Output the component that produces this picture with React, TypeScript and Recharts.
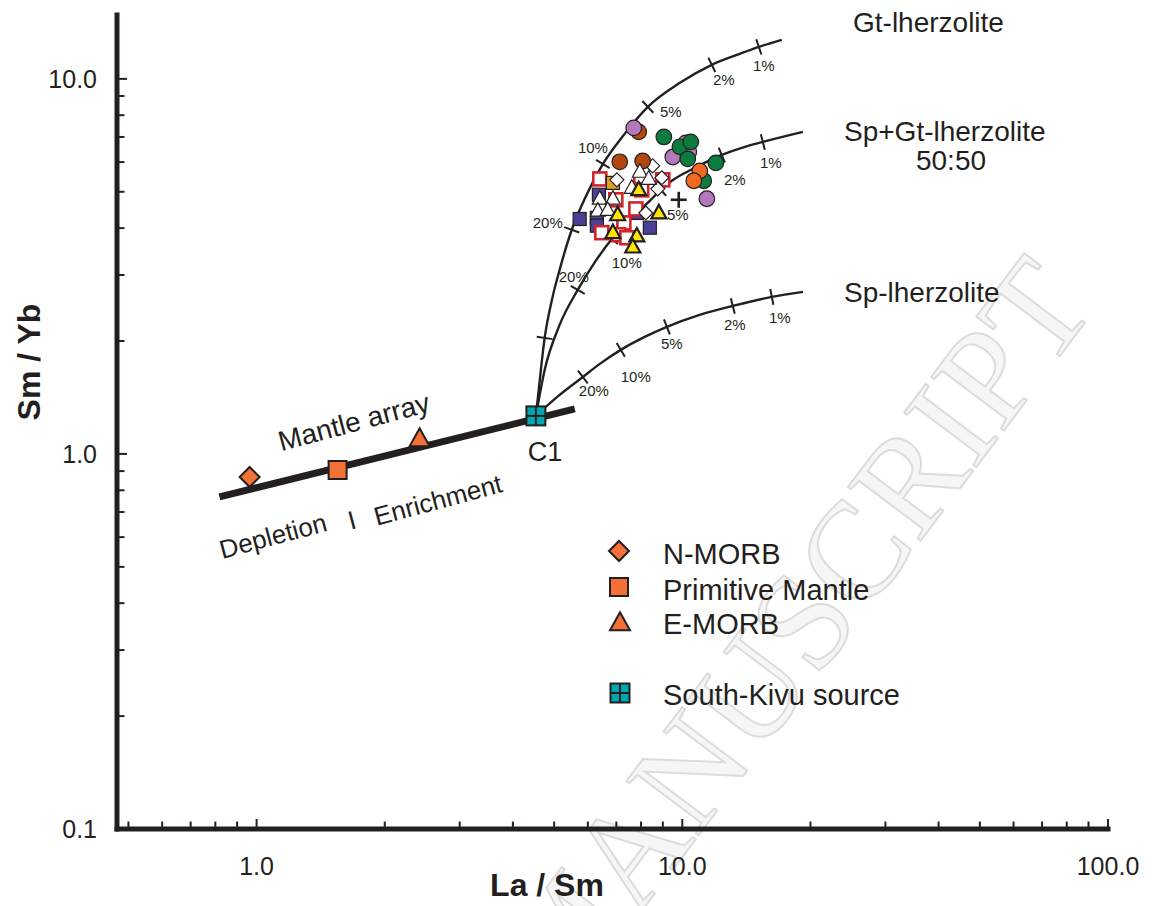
import React from 'react';
import { ComposedChart, XAxis, YAxis, Line, Scatter, Customized } from 'recharts';

const FONT = '"Liberation Sans", Arial, Helvetica, sans-serif';
const INK = '#231f20';

const CHART_W = 1144;
const CHART_H = 898;
const MARGIN = { top: 7, right: 44, bottom: 17, left: 0 };
const Y_AXIS_W = 109;
const X_AXIS_H = 60;
const X_DOMAIN: [number, number] = [0.47, 100];
const Y_DOMAIN: [number, number] = [0.1, 14.8];
const PLOT_W = CHART_W - MARGIN.left - MARGIN.right - Y_AXIS_W;
const PLOT_H = CHART_H - MARGIN.top - MARGIN.bottom - X_AXIS_H;
const PXX = PLOT_W / Math.log10(X_DOMAIN[1] / X_DOMAIN[0]);
const PXY = PLOT_H / Math.log10(Y_DOMAIN[1] / Y_DOMAIN[0]);

// ---------- axis ticks ----------
const xTicks = [0.5, 0.6, 0.7, 0.8, 0.9, 1, 2, 3, 4, 5, 6, 7, 8, 9, 10, 20, 30, 40, 50, 60, 70, 80, 90, 100];
const yTicks = [0.1, 0.2, 0.3, 0.4, 0.5, 0.6, 0.7, 0.8, 0.9, 1, 2, 3, 4, 5, 6, 7, 8, 9, 10];
const xMajorValues = [1, 10, 100];
const xMajorLabels = ['1.0', '10.0', '100.0'];
const yMajorValues = [0.1, 1, 10];
const yMajorLabels = ['0.1', '1.0', '10.0'];
const xTitle = 'La / Sm';
const yTitle = 'Sm / Yb';

// ---------- reference compositions ----------
const mantleArray = [
  { x: 0.818, y: 0.768 },
  { x: 5.59, y: 1.318 },
];
const nMorb = [{ x: 0.963, y: 0.868 }];
const primitiveMantle = [{ x: 1.55, y: 0.906 }];
const eMorb = [{ x: 2.415, y: 1.096 }];
const southKivuC1 = [{ x: 4.53, y: 1.263 }];

// ---------- melting curves ----------
const gtCurve = [
  { x: 4.53, y: 1.263 }, { x: 4.6, y: 1.482 }, { x: 4.75, y: 2.038 }, { x: 4.94, y: 2.574 },
  { x: 5.15, y: 3.095 }, { x: 5.5, y: 3.96 }, { x: 5.93, y: 4.85 }, { x: 6.51, y: 5.93 },
  { x: 7.29, y: 7.09 }, { x: 8.3, y: 8.42 }, { x: 9.87, y: 9.76 }, { x: 11.73, y: 10.9 },
  { x: 13.65, y: 11.66 }, { x: 15.13, y: 12.17 }, { x: 17.13, y: 12.71 },
];
const spGtCurve = [
  { x: 4.53, y: 1.263 }, { x: 4.75, y: 1.675 }, { x: 5.15, y: 2.208 }, { x: 5.68, y: 2.737 },
  { x: 6.26, y: 3.27 }, { x: 6.83, y: 3.74 }, { x: 7.52, y: 4.23 }, { x: 8.39, y: 4.73 },
  { x: 8.9, y: 5.06 }, { x: 9.45, y: 5.35 }, { x: 10.7, y: 5.79 }, { x: 12.38, y: 6.27 },
  { x: 14.03, y: 6.59 }, { x: 15.46, y: 6.79 }, { x: 19.2, y: 7.22 },
];
const spCurve = [
  { x: 4.53, y: 1.263 }, { x: 5.15, y: 1.437 }, { x: 5.84, y: 1.604 }, { x: 6.4, y: 1.738 },
  { x: 7.17, y: 1.894 }, { x: 8.16, y: 2.051 }, { x: 9.2, y: 2.182 }, { x: 10.99, y: 2.348 },
  { x: 13.14, y: 2.481 }, { x: 16.23, y: 2.623 }, { x: 19.2, y: 2.704 },
];

// melting-degree ticks on the curves
const gtTicks = [
  { x: 4.75, y: 2.038, label: '' },
  { x: 5.5, y: 3.96, label: '20%' },
  { x: 6.51, y: 5.93, label: '10%' },
  { x: 8.3, y: 8.42, label: '5%' },
  { x: 11.73, y: 10.9, label: '2%' },
  { x: 15.13, y: 12.17, label: '1%' },
];
const spGtTicks = [
  { x: 5.68, y: 2.737, label: '20%' },
  { x: 6.83, y: 3.74, label: '10%' },
  { x: 8.9, y: 5.06, label: '5%' },
  { x: 12.38, y: 6.27, label: '2%' },
  { x: 15.46, y: 6.79, label: '1%' },
];
const spTicks = [
  { x: 5.84, y: 1.604, label: '20%' },
  { x: 7.17, y: 1.894, label: '10%' },
  { x: 9.2, y: 2.182, label: '5%' },
  { x: 13.14, y: 2.481, label: '2%' },
  { x: 16.23, y: 2.623, label: '1%' },
];

// ---------- samples ----------
const purpleCircles = [
  { x: 7.69, y: 7.4 }, { x: 10.19, y: 6.75 }, { x: 10.36, y: 6.39 }, { x: 9.5, y: 6.19 }, { x: 11.42, y: 4.79 },
];
const greenCircles = [
  { x: 9.05, y: 7.0 }, { x: 9.87, y: 6.59 }, { x: 10.47, y: 6.79 }, { x: 10.3, y: 6.12 },
  { x: 11.99, y: 5.97 }, { x: 11.23, y: 5.35 },
];
const brownCircles = [
  { x: 7.9, y: 7.22 }, { x: 7.13, y: 6.01 }, { x: 8.07, y: 6.04 },
];
const orangeCircles = [
  { x: 10.99, y: 5.68 }, { x: 10.64, y: 5.35 },
];
const blueSquares = [
  { x: 5.74, y: 4.23 }, { x: 6.37, y: 4.91 }, { x: 6.3, y: 4.26 }, { x: 6.3, y: 4.06 },
  { x: 8.39, y: 4.01 }, { x: 7.82, y: 4.39 },
];
const redOpenSquares = [
  { x: 6.4, y: 5.41 }, { x: 7.99, y: 5.31 }, { x: 9.0, y: 5.38 }, { x: 8.03, y: 5.06 },
  { x: 6.98, y: 4.76 }, { x: 7.78, y: 4.5 }, { x: 7.29, y: 4.13 }, { x: 6.47, y: 3.89 },
  { x: 7.09, y: 3.84 }, { x: 7.41, y: 3.77 },
];
const goldSquares = [{ x: 6.87, y: 5.28 }];
const whiteDiamonds = [
  { x: 7.02, y: 5.38 }, { x: 8.95, y: 5.45 }, { x: 8.76, y: 5.09 }, { x: 8.21, y: 4.39 }, { x: 8.52, y: 5.86 },
];
const whiteTriangles = [
  { x: 7.95, y: 5.65 }, { x: 8.34, y: 5.41 }, { x: 7.61, y: 5.12 }, { x: 6.4, y: 4.79 },
  { x: 6.87, y: 4.79 }, { x: 6.33, y: 4.45 }, { x: 6.68, y: 4.47 },
];
const yellowTriangles = [
  { x: 7.9, y: 5.06 }, { x: 7.05, y: 4.34 }, { x: 8.81, y: 4.39 }, { x: 6.87, y: 3.89 },
  { x: 7.82, y: 3.81 }, { x: 7.65, y: 3.56 },
];
const plusMarks = [{ x: 9.81, y: 4.76 }];

// ---------- legend ----------
const legendItems = ['N-MORB', 'Primitive Mantle', 'E-MORB', 'South-Kivu source'];

// ---------- styles ----------
const COLORS = {
  orangeRef: '#f37036',
  teal: '#00a6b0',
  purple: '#b479bd',
  green: '#0b7c3e',
  brown: '#b2470f',
  orange: '#f26a21',
  blue: '#4b3f98',
  red: '#d2232a',
  gold: '#e0a21c',
  yellow: '#ffe600',
};

const gtLabelOffsets: Record<string, [number, number]> = {
  '20%': [-24, -7], '10%': [-10, -16], '5%': [23, 5], '2%': [12, 15], '1%': [5, 19],
};
const spGtLabelOffsets: Record<string, [number, number]> = {
  '20%': [-4, -13], '10%': [15, 23], '5%': [17, 25], '2%': [13, 25], '1%': [8, 21],
};
const spLabelOffsets: Record<string, [number, number]> = {
  '20%': [11, 14], '10%': [15, 27], '5%': [5, 17], '2%': [2, 19], '1%': [8, 21],
};

// ---------- shapes ----------
const circleShape = (fill: string) => (p: any) => (
  <circle cx={p.cx} cy={p.cy} r={7.8} fill={fill} stroke={INK} strokeWidth={1.2} />
);
const squareShape = (fill: string, stroke: string, sw: number, size: number) => (p: any) => (
  <rect x={p.cx - size / 2} y={p.cy - size / 2} width={size} height={size} fill={fill} stroke={stroke} strokeWidth={sw} />
);
const diamondShape = (fill: string, h: number, sw: number) => (p: any) => (
  <path d={`M${p.cx},${p.cy - h}L${p.cx + h},${p.cy}L${p.cx},${p.cy + h}L${p.cx - h},${p.cy}Z`} fill={fill} stroke={INK} strokeWidth={sw} />
);
const triangleShape = (fill: string, w: number, sw: number) => (p: any) => {
  const h = w * 0.9;
  return (
    <path
      d={`M${p.cx},${p.cy - h * 0.6}L${p.cx + w / 2},${p.cy + h * 0.4}L${p.cx - w / 2},${p.cy + h * 0.4}Z`}
      fill={fill}
      stroke={INK}
      strokeWidth={sw}
      strokeLinejoin="miter"
    />
  );
};
const plusShape = (p: any) => (
  <g stroke={INK} strokeWidth={2.6}>
    <line x1={p.cx - 8} x2={p.cx + 8} y1={p.cy} y2={p.cy} />
    <line x1={p.cx} x2={p.cx} y1={p.cy - 8} y2={p.cy + 8} />
  </g>
);
const kivuMarker = (cx: number, cy: number, s: number) => (
  <g>
    <rect x={cx - s / 2} y={cy - s / 2} width={s} height={s} fill={COLORS.teal} stroke={INK} strokeWidth={2} />
    <line x1={cx} x2={cx} y1={cy - s / 2} y2={cy + s / 2} stroke={INK} strokeWidth={2} />
    <line x1={cx - s / 2} x2={cx + s / 2} y1={cy} y2={cy} stroke={INK} strokeWidth={2} />
  </g>
);
const kivuShape = (p: any) => kivuMarker(p.cx, p.cy, 19);

const makeTickShape = (curve: { x: number; y: number }[], offsets: Record<string, [number, number]>) => (p: any) => {
  const { cx, cy, payload } = p;
  let best = 0;
  let bd = Infinity;
  curve.forEach((c, i) => {
    const d = Math.abs(Math.log10(c.x) - Math.log10(payload.x)) + Math.abs(Math.log10(c.y) - Math.log10(payload.y));
    if (d < bd) { bd = d; best = i; }
  });
  const a = curve[Math.max(0, best - 1)];
  const b = curve[Math.min(curve.length - 1, best + 1)];
  const dx = (Math.log10(b.x) - Math.log10(a.x)) * PXX;
  const dy = -(Math.log10(b.y) - Math.log10(a.y)) * PXY;
  const len = Math.hypot(dx, dy) || 1;
  const nx = -dy / len;
  const ny = dx / len;
  const L = 8;
  const off = offsets[payload.label];
  return (
    <g>
      <line x1={cx - nx * L} y1={cy - ny * L} x2={cx + nx * L} y2={cy + ny * L} stroke={INK} strokeWidth={2} />
      {payload.label && off ? (
        <text x={cx + off[0]} y={cy + off[1]} textAnchor="middle" dominantBaseline="central" fontSize={15} fontFamily={FONT} fill={INK}>
          {payload.label}
        </text>
      ) : null}
    </g>
  );
};

// ---------- axis ticks ----------
const XTick = (props: any) => {
  const { x, y, payload } = props;
  const idx = xMajorValues.indexOf(payload.value);
  const major = idx >= 0;
  return (
    <g>
      <line x1={x} x2={x} y1={y} y2={y - (major ? 10 : 7.5)} stroke={INK} strokeWidth={2} />
      {major ? (
        <text x={x} y={y + 37} textAnchor="middle" dominantBaseline="central" fontSize={25} fontFamily={FONT} fill={INK}>
          {xMajorLabels[idx]}
        </text>
      ) : null}
    </g>
  );
};
const YTick = (props: any) => {
  const { x, y, payload } = props;
  const idx = yMajorValues.indexOf(payload.value);
  const major = idx >= 0;
  return (
    <g>
      {payload.value !== Y_DOMAIN[0] ? (
        <line x1={x} x2={x + (major ? 10 : 7.5)} y1={y} y2={y} stroke={INK} strokeWidth={2} />
      ) : null}
      {major ? (
        <text x={x - 20} y={y} textAnchor="end" dominantBaseline="central" fontSize={25} fontFamily={FONT} fill={INK}>
          {yMajorLabels[idx]}
        </text>
      ) : null}
    </g>
  );
};

// ---------- static text layers ----------
const Watermark = () => (
  <text
    x={785}
    y={625}
    textAnchor="middle"
    dominantBaseline="central"
    fontSize={138}
    fontFamily='"Liberation Serif", "DejaVu Serif", serif'
    fill="#f6f6f6"
    stroke="#dcdcdc"
    strokeWidth={2}
    transform="rotate(-53 785 625)"
  >
    MANUSCRIPT
  </text>
);

const Annotations = () => {
  const t = { fontFamily: FONT, fill: INK } as const;
  return (
    <g>
      <text x={845} y={14} fontSize={28} dominantBaseline="central" {...t}>Gt-lherzolite</text>
      <text x={836} y={123} fontSize={28} dominantBaseline="central" {...t}>Sp+Gt-lherzolite</text>
      <text x={943} y={152} fontSize={28} textAnchor="middle" dominantBaseline="central" {...t}>50:50</text>
      <text x={836} y={284} fontSize={28} dominantBaseline="central" {...t}>Sp-lherzolite</text>
      <text x={346} y={414} fontSize={28} textAnchor="middle" dominantBaseline="central" transform="rotate(-15 346 414)" {...t}>Mantle array</text>
      <text x={537} y={444} fontSize={27} textAnchor="middle" dominantBaseline="central" {...t}>C1</text>
      <text x={265} y={528} fontSize={26} textAnchor="middle" dominantBaseline="central" transform="rotate(-15 265 528)" {...t}>Depletion</text>
      <text x={344} y={512} fontSize={26} textAnchor="middle" dominantBaseline="central" transform="rotate(-15 344 512)" {...t}>I</text>
      <text x={430} y={492} fontSize={26} textAnchor="middle" dominantBaseline="central" transform="rotate(-15 430 492)" {...t}>Enrichment</text>
      <text x={539} y={877} fontSize={32} fontWeight="bold" textAnchor="middle" dominantBaseline="central" {...t}>{xTitle}</text>
      <text x={21} y={354} fontSize={32} fontWeight="bold" textAnchor="middle" dominantBaseline="central" transform="rotate(-90 21 354)" {...t}>{yTitle}</text>
    </g>
  );
};

const LegendBox = () => {
  const tx = 655;
  const ys = [546, 582, 616, 687];
  const mx = 611;
  const t = { fontFamily: FONT, fill: INK, fontSize: 29, dominantBaseline: 'central' as const };
  return (
    <g>
      {diamondShape(COLORS.orangeRef, 10, 2)({ cx: mx, cy: ys[0] - 3 })}
      {squareShape(COLORS.orangeRef, INK, 2, 18)({ cx: mx, cy: ys[1] - 3 })}
      {triangleShape(COLORS.orangeRef, 20, 2)({ cx: mx + 1, cy: ys[2] - 1 })}
      {kivuMarker(mx + 1, ys[3] - 2, 19)}
      {legendItems.map((s, i) => (
        <text key={s} x={tx} y={ys[i]} {...t}>{s}</text>
      ))}
    </g>
  );
};

export default function App() {
  return (
    <div style={{ width: CHART_W, height: CHART_H, background: '#fff' }}>
      <ComposedChart width={CHART_W} height={CHART_H} margin={MARGIN}>
        <Customized component={Watermark} />
        <XAxis
          type="number"
          dataKey="x"
          scale="log"
          domain={X_DOMAIN}
          allowDataOverflow
          ticks={xTicks}
          interval={0}
          tick={<XTick />}
          tickLine={false}
          tickSize={0}
          tickMargin={0}
          height={X_AXIS_H}
          axisLine={{ stroke: INK, strokeWidth: 5, strokeLinecap: 'square' }}
        />
        <YAxis
          type="number"
          dataKey="y"
          scale="log"
          domain={Y_DOMAIN}
          allowDataOverflow
          ticks={yTicks}
          interval={0}
          tick={<YTick />}
          tickLine={false}
          tickSize={0}
          tickMargin={0}
          width={Y_AXIS_W}
          axisLine={{ stroke: INK, strokeWidth: 5, strokeLinecap: 'square' }}
        />
        <Line data={mantleArray} dataKey="y" type="linear" stroke={INK} strokeWidth={7} dot={false} isAnimationActive={false} />
        <Line data={gtCurve} dataKey="y" type="monotone" stroke={INK} strokeWidth={2.4} dot={false} isAnimationActive={false} />
        <Line data={spGtCurve} dataKey="y" type="monotone" stroke={INK} strokeWidth={2.4} dot={false} isAnimationActive={false} />
        <Line data={spCurve} dataKey="y" type="monotone" stroke={INK} strokeWidth={2.4} dot={false} isAnimationActive={false} />
        <Scatter data={gtTicks} shape={makeTickShape(gtCurve, gtLabelOffsets)} isAnimationActive={false} />
        <Scatter data={spGtTicks} shape={makeTickShape(spGtCurve, spGtLabelOffsets)} isAnimationActive={false} />
        <Scatter data={spTicks} shape={makeTickShape(spCurve, spLabelOffsets)} isAnimationActive={false} />

        <Scatter data={nMorb} shape={diamondShape(COLORS.orangeRef, 10, 2)} isAnimationActive={false} />
        <Scatter data={primitiveMantle} shape={squareShape(COLORS.orangeRef, INK, 2, 18)} isAnimationActive={false} />
        <Scatter data={eMorb} shape={triangleShape(COLORS.orangeRef, 20, 2)} isAnimationActive={false} />
        <Scatter data={southKivuC1} shape={kivuShape} isAnimationActive={false} />

        <Scatter data={blueSquares} shape={squareShape(COLORS.blue, INK, 1.2, 13)} isAnimationActive={false} />
        <Scatter data={redOpenSquares} shape={squareShape('#ffffff', COLORS.red, 2.6, 13)} isAnimationActive={false} />
        <Scatter data={goldSquares} shape={squareShape(COLORS.gold, INK, 1.2, 13)} isAnimationActive={false} />
        <Scatter data={whiteDiamonds} shape={diamondShape('#ffffff', 7, 1.2)} isAnimationActive={false} />
        <Scatter data={brownCircles} shape={circleShape(COLORS.brown)} isAnimationActive={false} />
        <Scatter data={purpleCircles} shape={circleShape(COLORS.purple)} isAnimationActive={false} />
        <Scatter data={greenCircles} shape={circleShape(COLORS.green)} isAnimationActive={false} />
        <Scatter data={orangeCircles} shape={circleShape(COLORS.orange)} isAnimationActive={false} />
        <Scatter data={whiteTriangles} shape={triangleShape('#ffffff', 15, 1.2)} isAnimationActive={false} />
        <Scatter data={yellowTriangles} shape={triangleShape(COLORS.yellow, 15, 2.2)} isAnimationActive={false} />
        <Scatter data={plusMarks} shape={plusShape} isAnimationActive={false} />

        <Customized component={Annotations} />
        <Customized component={LegendBox} />
      </ComposedChart>
    </div>
  );
}
